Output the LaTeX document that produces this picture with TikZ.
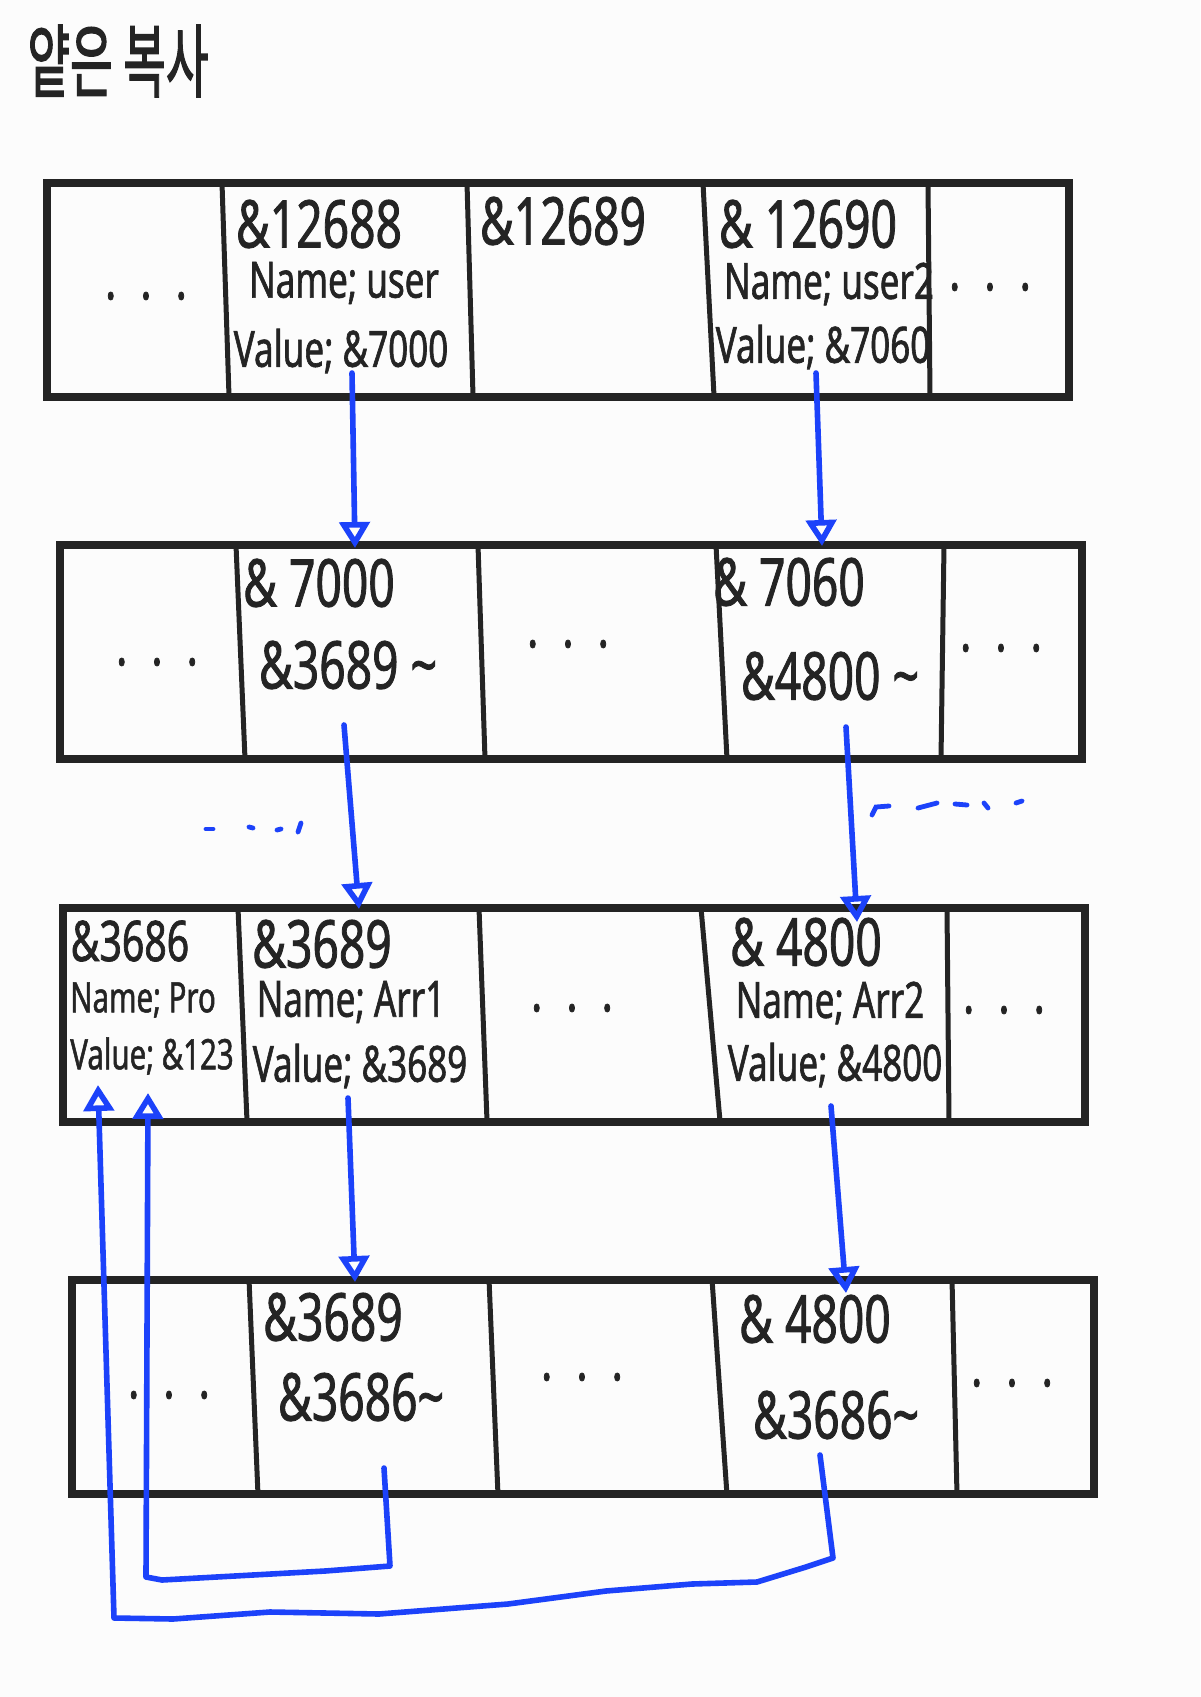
\documentclass[tikz,border=0pt]{standalone}
\usepackage{graphicx}
\usepackage{fontspec}
\setmainfont{Noto Sans}[FakeStretch=0.7, FakeBold=1.2]
\newfontfamily\kofont{Noto Sans CJK KR}[FakeBold=2]
\usetikzlibrary{arrows.meta,calc}
\definecolor{ink}{RGB}{36,36,36}
\definecolor{penblue}{RGB}{28,66,250}
\definecolor{paper}{RGB}{252,252,252}
\newcommand{\threedots}{.\hspace{12pt}.\hspace{12pt}.}

\begin{document}
\begin{tikzpicture}[x=0.5pt, y=-0.5pt]
  \tikzstyle{memrow}=[rectangle, draw=ink, line width=4pt, minimum width=511pt, minimum height=107pt, inner sep=0pt]
  \tikzstyle{divider}=[draw=ink, line width=2.5pt, line cap=round]
  \tikzstyle{addr}=[inner sep=0pt, text=ink, font=\fontsize{33}{36}\selectfont]
  \tikzstyle{field}=[inner sep=0pt, text=ink, font=\fontsize{25}{28}\selectfont]
  \tikzstyle{addrs}=[inner sep=0pt, text=ink, font=\fontsize{28}{30}\selectfont]
  \tikzstyle{fields}=[inner sep=0pt, text=ink, font=\fontsize{21}{24}\selectfont]
  \tikzstyle{etc}=[inner sep=0pt, text=ink, font=\fontsize{30}{32}\selectfont]
  \tikzstyle{scribble}=[draw=penblue, line width=2.4pt, line cap=round]
  \tikzstyle{ptr}=[draw=penblue, line width=2.8pt, line cap=round, line join=round, -{Triangle[open, length=13pt, width=15pt]}]

  \fill[paper] (0,0) rectangle (1200,1697);
  \useasboundingbox (0,0) rectangle (1200,1697);

  \node[text=ink] (title) at (118,61) {\kofont\fontsize{40}{44}\selectfont\scalebox{0.58}[1]{얕은 복사}};

  % memory rows
  \node[memrow] (r1) at (558,289.5) {};
  \node[memrow] (r2) at (570.5,652) {};
  \node[memrow] (r3) at (574,1014.5) {};
  \node[memrow] (r4) at (583,1387) {};

  \foreach \xt/\xb in {222/229, 467/473, 703/714, 928/930}
    \draw[divider] (\xt,183) -- (\xb,396);
  \foreach \xt/\xb in {236/245, 478/485, 716/727, 944/941}
    \draw[divider] (\xt,545) -- (\xb,759);
  \foreach \xt/\xb in {238/247, 479/487, 701/720, 947/949}
    \draw[divider] (\xt,908) -- (\xb,1121);
  \foreach \xt/\xb in {249/258, 489/498, 712/727, 952/957}
    \draw[divider] (\xt,1279) -- (\xb,1495);

  % row 1
  \node[etc] (e1a) at (146,296) {\threedots};
  \node[addr] (c12688) at (319,224) {\&12688};
  \node[field] (n1) at (344,283) {Name; user};
  \node[field] (val1) at (341,351) {Value; \&7000};
  \node[addr] (c12689) at (563,221) {\&12689};
  \node[addr] (c12690) at (808,224) {\& 12690};
  \node[field] (n2) at (829,284) {Name; user2};
  \node[field] (val2) at (823,347) {Value; \&7060};
  \node[etc] (e1b) at (990,287) {\threedots};

  % row 2
  \node[etc] (e2a) at (157,662) {\threedots};
  \node[addr] (ad7000) at (319,583) {\& 7000};
  \node[addr] (p2a) at (348,665) {\&3689 \textasciitilde};
  \node[etc] (e2b) at (568,644) {\threedots};
  \node[addr] (ad7060) at (789,582) {\& 7060};
  \node[addr] (p2b) at (830,676) {\&4800 \textasciitilde};
  \node[etc] (e2c) at (1001,648) {\threedots};

  % row 3
  \node[addrs] (ad3686) at (130,941) {\&3686};
  \node[fields] (npro) at (143,1000) {Name; Pro};
  \node[fields] (vpro) at (152,1056) {Value; \&123};
  \node[addr] (ad3689) at (322,944) {\&3689};
  \node[field] (narr1) at (351,1002) {Name; Arr1};
  \node[field] (v3689) at (360,1066) {Value; \&3689};
  \node[etc] (e3a) at (572,1008) {\threedots};
  \node[addr] (ad4800) at (806,942) {\& 4800};
  \node[field] (narr2) at (830,1003) {Name; Arr2};
  \node[field] (v4800) at (835,1065) {Value; \&4800};
  \node[etc] (e3b) at (1004,1010) {\threedots};

  % row 4
  \node[etc] (e4a) at (169,1395) {\threedots};
  \node[addr] (b3689) at (333,1317) {\&3689};
  \node[addr] (p4a) at (361,1397) {\&3686\textasciitilde};
  \node[etc] (e4b) at (582,1377) {\threedots};
  \node[addr] (b4800) at (815,1319) {\& 4800};
  \node[addr] (p4b) at (836,1415) {\&3686\textasciitilde};
  \node[etc] (e4c) at (1012,1383) {\threedots};

  % blue marks between rows 2 and 3
  \draw[scribble] (206,829) -- (213,829);
  \draw[scribble] (249,827) -- (253,828);
  \draw[scribble] (277,830) -- (281,829);
  \draw[scribble] (298,832) -- (301,823);
  \draw[scribble] (872,815) -- (876,807) -- (889,806);
  \draw[scribble] (918,808) -- (937,803);
  \draw[scribble] (955,804) -- (967,805);
  \draw[scribble] (984,803) -- (988,808);
  \draw[scribble] (1016,803) -- (1022,801);

  % pointers
  \draw[ptr] ($(val1)+(11,22)$) -- ($(ad7000)+(36,-35)$);
  \draw[ptr] ($(val2)+(-7,26)$) -- ($(ad7060)+(33,-36)$);
  \draw[ptr] ($(p2a)+(-4,60)$) -- ($(ad3689)+(37,-35)$);
  \draw[ptr] ($(p2b)+(16,51)$) -- ($(ad4800)+(51,-20)$);
  \draw[ptr] ($(v3689)+(-12,32)$) -- ($(b3689)+(22,-35)$);
  \draw[ptr] ($(v4800)+(-4,41)$) -- ($(b4800)+(31,-26)$);
  \draw[ptr] ($(p4a)+(23,71)$) -- ++(6,98) -- ++(-65,5) -- ++(-54,3) -- ++(-109,6) -- ++(-16,-3) -- ($(vpro)+(-4,37)$);
  \draw[ptr] ($(p4b)+(-16,40)$) -- ++(13,103) -- ++(-27,9) -- ++(-49,15) -- ++(-65,2) -- ++(-86,7) -- ++(-98,13) -- ++(-129,10) -- ++(-109,-2) -- ++(-97,7) -- ++(-59,-1) -- ($(vpro)+(-54,29)$);
\end{tikzpicture}
\end{document}
